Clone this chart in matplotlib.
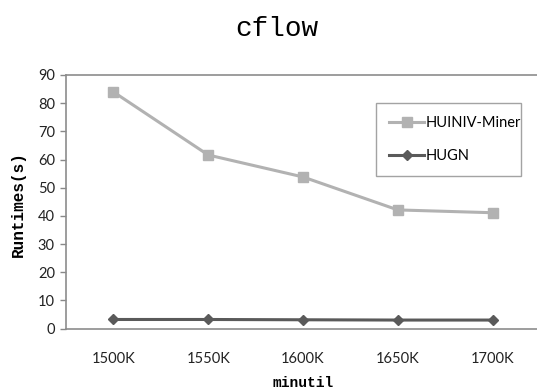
import numpy as np
import matplotlib
matplotlib.use('Agg')
from matplotlib import pyplot as plt

minutil = ['1500K', '1550K', '1600K', '1650K', '1700K']
huiniv_miner = [84.0, 61.6, 53.8, 42.1, 41.1]
hugn = [3.2, 3.2, 3.1, 3.0, 3.0]

W, H = 537, 391
fig = plt.figure(figsize=(W / 100, H / 100), dpi=100)
# axes box in pixels: left 66, right 540, top 75, bottom 328.5
ax = fig.add_axes([66 / W, 1 - 328.5 / H, (540 - 66) / W, (328.5 - 75) / H])

x = np.arange(len(minutil))
ax.plot(x, huiniv_miner, color='#b2b2b2', lw=2.2, marker='s', ms=7,
        mec='#b2b2b2', mfc='#b2b2b2', label='HUINIV-Miner', clip_on=False)
ax.plot(x, hugn, color='#5a5a5a', lw=2.2, marker='D', ms=5.5,
        mec='#5a5a5a', mfc='#5a5a5a', label='HUGN', clip_on=False)

ax.set_xlim(-0.5, 4.5)
ax.set_ylim(0, 90)
ax.set_yticks(range(0, 91, 10))
ax.set_xticks(x)
ax.set_xticklabels(minutil)

for lab in ax.get_xticklabels() + ax.get_yticklabels():
    lab.set_fontfamily('Lato')
    lab.set_fontsize(10.5)
    lab.set_color('#222222')

ax.tick_params(axis='y', length=4, width=1, color='#888888', pad=4)
ax.tick_params(axis='x', length=0, pad=17)
for side in ['left', 'bottom', 'top']:
    ax.spines[side].set_color('#8c8c8c')
    ax.spines[side].set_linewidth(1.2)
ax.spines['right'].set_visible(False)

fig.text(277 / W, 1 - 29 / H, 'cflow', ha='center', va='center',
         family='Liberation Mono', fontsize=20)
fig.text(18 / W, 1 - 204 / H, 'Runtimes(s)', ha='center', va='center', rotation=90,
         family='Liberation Mono', fontweight='bold', fontsize=11.5)
fig.text(303 / W, 1 - 383 / H, 'minutil', ha='center', va='center',
         family='Liberation Mono', fontweight='bold', fontsize=10.5)

leg = ax.legend(loc='upper left',
                bbox_to_anchor=(376 / W, 1 - 177 / H, (521 - 376) / W, (177 - 103) / H),
                bbox_transform=fig.transFigure, mode='expand',
                prop={'family': 'Lato', 'size': 10.5}, frameon=True, fancybox=False,
                labelspacing=1.3, handlelength=2.4, handletextpad=0.1,
                borderpad=0.9, borderaxespad=0)
leg.get_frame().set_edgecolor('#8c8c8c')
leg.get_frame().set_linewidth(1.0)

fig.savefig('out.png', dpi=100)
